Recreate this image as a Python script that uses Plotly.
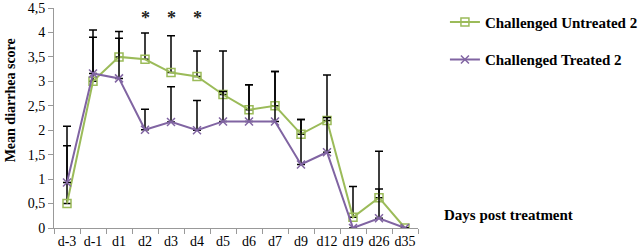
import plotly.graph_objects as go

days = ["d-3", "d-1", "d1", "d2", "d3", "d4", "d5", "d6", "d7", "d9", "d12", "d19", "d26", "d35"]
untreated = [0.5, 3.0, 3.5, 3.45, 3.18, 3.1, 2.73, 2.42, 2.5, 1.92, 2.2, 0.22, 0.62, 0.0]
untreated_err = [1.58, 1.05, 0.52, 0.54, 0.75, 0.52, 0.89, 0.51, 0.7, 0.3, 0.93, 0.63, 0.95, 0.0]
treated = [0.93, 3.16, 3.06, 2.01, 2.17, 2.0, 2.18, 2.18, 2.18, 1.3, 1.55, 0.0, 0.2, 0.0]
treated_err = [0.75, 0.74, 0.82, 0.42, 0.72, 0.61, 0.61, 0.75, 1.02, 0.92, 0.71, 0.0, 0.6, 0.0]
star_days = ["d2", "d3", "d4"]
star_y = 4.29

GREEN = "#9BBB59"
PURPLE = "#8064A2"
FONT = "Liberation Serif"

fig = go.Figure()
fig.add_trace(go.Scatter(
    x=days, y=untreated, name="<b>Challenged Untreated 2</b>", mode="lines+markers",
    line=dict(color=GREEN, width=2),
    marker=dict(symbol="square-open", size=8, color=GREEN, line=dict(width=1.5)),
    error_y=dict(type="data", symmetric=False, array=untreated_err,
                 arrayminus=[0] * len(days), color="black", thickness=1.5, width=4),
    legend="legend",
))
fig.add_trace(go.Scatter(
    x=days, y=treated, name="<b>Challenged Treated 2</b>", mode="lines+markers",
    line=dict(color=PURPLE, width=2),
    marker=dict(symbol="x-thin-open", size=8, color=PURPLE, line=dict(width=1.5, color=PURPLE)),
    error_y=dict(type="data", symmetric=False, array=treated_err,
                 arrayminus=[0] * len(days), color="black", thickness=1.5, width=4),
    legend="legend2",
))

for d in star_days:
    fig.add_annotation(x=d, y=star_y, text="<b>*</b>", showarrow=False,
                       font=dict(family=FONT, size=18, color="#222"), yanchor="middle")

fig.add_annotation(xref="paper", yref="paper", x=1.066, y=0.059, xanchor="left", yanchor="middle",
                   text="<b>Days post treatment</b>", showarrow=False,
                   font=dict(family=FONT, size=15, color="black"))

fig.add_annotation(xref="paper", yref="paper", x=-0.121, y=0.58, xanchor="center", yanchor="middle",
                   text="<b>Mean diarrhea score</b>", textangle=-90, showarrow=False,
                   font=dict(family=FONT, size=14, color="black"))

fig.update_layout(
    width=638, height=252,
    margin=dict(l=54, r=220, t=8, b=24, autoexpand=False),
    paper_bgcolor="white", plot_bgcolor="white",
    separators=",.",
    font=dict(family=FONT, size=14, color="black"),
    legend=dict(x=1.074, y=1.01, xanchor="left", yanchor="top",
                font=dict(family=FONT, size=15, color="black"),
                bgcolor="rgba(0,0,0,0)", itemwidth=30),
    legend2=dict(x=1.074, y=0.84, xanchor="left", yanchor="top",
                 font=dict(family=FONT, size=15, color="black"),
                 bgcolor="rgba(0,0,0,0)", itemwidth=30),
    showlegend=True,
)
fig.update_xaxes(type="category", range=[-0.5, len(days) - 0.5], showline=True, linecolor="#999",
                 linewidth=1, ticks="outside", tickson="boundaries", ticklen=5, tickcolor="#999",
                 showgrid=False, zeroline=False, tickangle=0, tickfont=dict(size=14), automargin=False)
fig.update_yaxes(range=[0, 4.5], dtick=0.5, showline=True, linecolor="#999", linewidth=1,
                 ticks="outside", ticklen=5, tickcolor="#999", showgrid=False, zeroline=False,
                 tickfont=dict(size=14), automargin=False)

fig.write_html("out.html", config={"displayModeBar": False},
               post_script="document.body.style.margin='0';document.body.style.overflow='hidden';")
